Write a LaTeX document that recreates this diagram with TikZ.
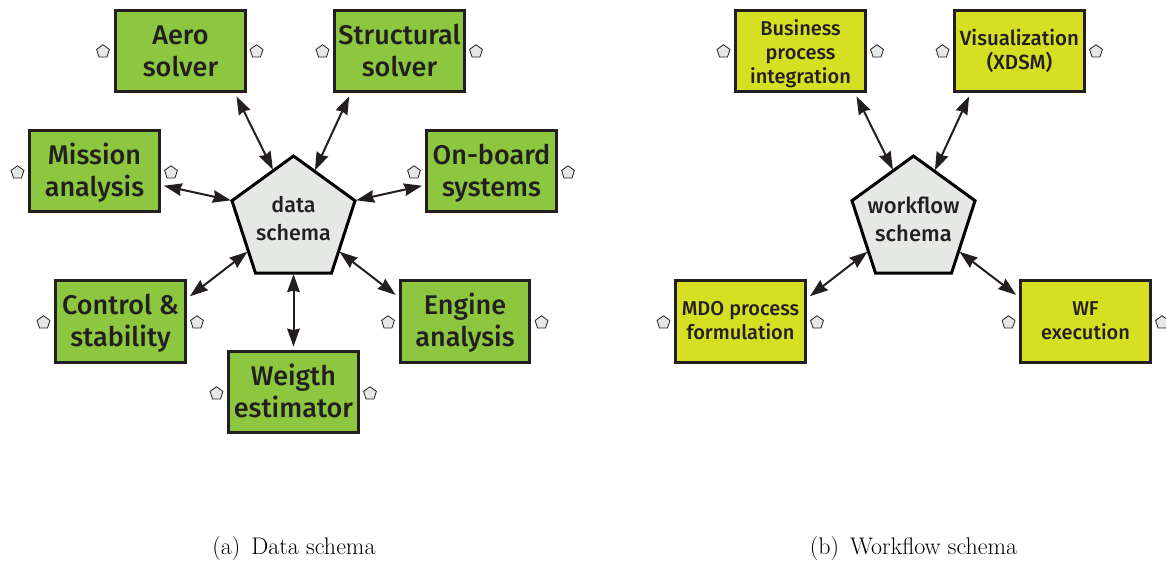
\documentclass[tikz,border=0pt]{standalone}
\usepackage{fontspec}
\setmainfont{Fira Sans}[BoldFont={Fira Sans Medium}]
\usetikzlibrary{shapes.geometric,arrows.meta}
\definecolor{inkc}{HTML}{231F20}
\definecolor{greenc}{HTML}{8DC63F}
\definecolor{yellowc}{HTML}{D7DF23}
\definecolor{hubc}{HTML}{E6E8E6}
\newfontfamily\capfont{Latin Modern Roman}
\newcommand{\gtext}[2]{\rule{0pt}{24pt}#1\\#2\rule[-6pt]{0pt}{6pt}}
\newcommand{\ytext}[2]{\rule{0pt}{18pt}#1\\#2\rule[-6pt]{0pt}{6pt}}
\tikzset{
  boxbase/.style={draw=inkc,line width=3pt,rectangle,minimum width=129.4pt,minimum height=81.3pt,inner sep=0pt,outer sep=4.7pt,align=center,text=inkc,font=\bfseries\fontsize{27}{32}\selectfont},
  greenbox/.style={boxbase,fill=greenc},
  yellowbox/.style={boxbase,fill=yellowc,font=\bfseries\fontsize{20}{24}\selectfont},
  hubshape/.style={draw=black,line width=3pt,fill=hubc,regular polygon,regular polygon sides=5,minimum size=129.4pt,inner sep=0pt,outer sep=1pt},
  hubtext/.style={align=center,text=inkc,inner sep=0pt,font=\bfseries\fontsize{21.5}{28}\selectfont},
  tinypent/.style={draw=inkc,line width=.8pt,fill=hubc,regular polygon,regular polygon sides=5,minimum size=13.5pt,inner sep=0pt},
  link/.style={draw=inkc,line width=2pt,{Stealth[length=18pt,width=12.5pt,inset=1.5pt]}-{Stealth[length=18pt,width=12.5pt,inset=1.5pt]}},
  caption/.style={inner sep=0pt,anchor=base,font=\capfont\fontsize{24}{28}\selectfont,text=black}
}
\begin{document}
\begin{tikzpicture}[x=1pt,y=-1pt]
\useasboundingbox (0,0) rectangle (1166,560);
% left panel
\node[hubshape] (hubA) at (293.5,220.7) {};
\node[hubtext] (hubAt) at (293.5,219) {data\\schema};
\node[greenbox] (aero) at (180.5,51) {\gtext{Aero}{solver}};
\node[greenbox] (struct) at (399.5,51) {\gtext{Structural}{solver}};
\node[greenbox] (mission) at (94.5,171) {\gtext{Mission}{analysis}};
\node[greenbox] (board) at (491.5,171) {\gtext{On-board}{systems}};
\node[greenbox] (control) at (120.5,321.5) {\gtext{Control \&}{stability}};
\node[greenbox] (engine) at (465,321.5) {\gtext{Engine}{analysis}};
\node[greenbox] (weigth) at (293.5,392) {\gtext{Weigth}{estimator}};
\draw[link] (aero.-39) -- (hubA.112.6);
\draw[link] (struct.222.6) -- (hubA.67.4);
\draw[link] (mission.-12) -- (hubA.162);
\draw[link] (board.192.2) -- (hubA.18);
\draw[link] (control.20.1) -- (hubA.214.2);
\draw[link] (engine.159.7) -- (hubA.-34.4);
\draw[link] (weigth.90) -- (hubA.270);
% right panel
\node[hubshape] (hubB) at (913.5,220.7) {};
\node[hubtext,font=\bfseries\fontsize{22}{28}\selectfont] (hubBt) at (913.5,219) {workflow\\schema};
\node[yellowbox] (business) at (800.5,51) {\rule{0pt}{22pt}Business\\process\\integration\rule[-6pt]{0pt}{6pt}};
\node[yellowbox,font=\bfseries\fontsize{20.5}{24}\selectfont] (visual) at (1019.5,51) {\ytext{Visualization}{(XDSM)}};
\node[yellowbox] (mdo) at (740.5,321.5) {\ytext{MDO process}{formulation}};
\node[yellowbox] (wf) at (1085.5,321.5) {\ytext{WF}{execution}};
\draw[link] (business.-39) -- (hubB.112.6);
\draw[link] (visual.222.6) -- (hubB.67.4);
\draw[link] (mdo.20.1) -- (hubB.214.2);
\draw[link] (wf.159.7) -- (hubB.-34.4);
% small pentagons
\foreach \n/\xl/\xr/\yy in {a/103/256.5/51.5,b/322.5/476/51.5,c/17.5/171/172.5,d/414/568/172.5,e/43.5/197/322.5,f/388/541.5/322.5,g/216.5/370/393.5,h/723.5/877/51.5,i/942.5/1096/51.5,j/663.5/817/322.5,k/1008.5/1162/322.5}{
  \node[tinypent] (p\n l) at (\xl,\yy) {};
  \node[tinypent] (p\n r) at (\xr,\yy) {};
}
% captions
\node[caption] (capa) at (294,554.5) {(a)\hspace{11pt}Data schema};
\node[caption] (capb) at (913.5,554.5) {(b)\hspace{11pt}Workflow schema};
\end{tikzpicture}
\end{document}
